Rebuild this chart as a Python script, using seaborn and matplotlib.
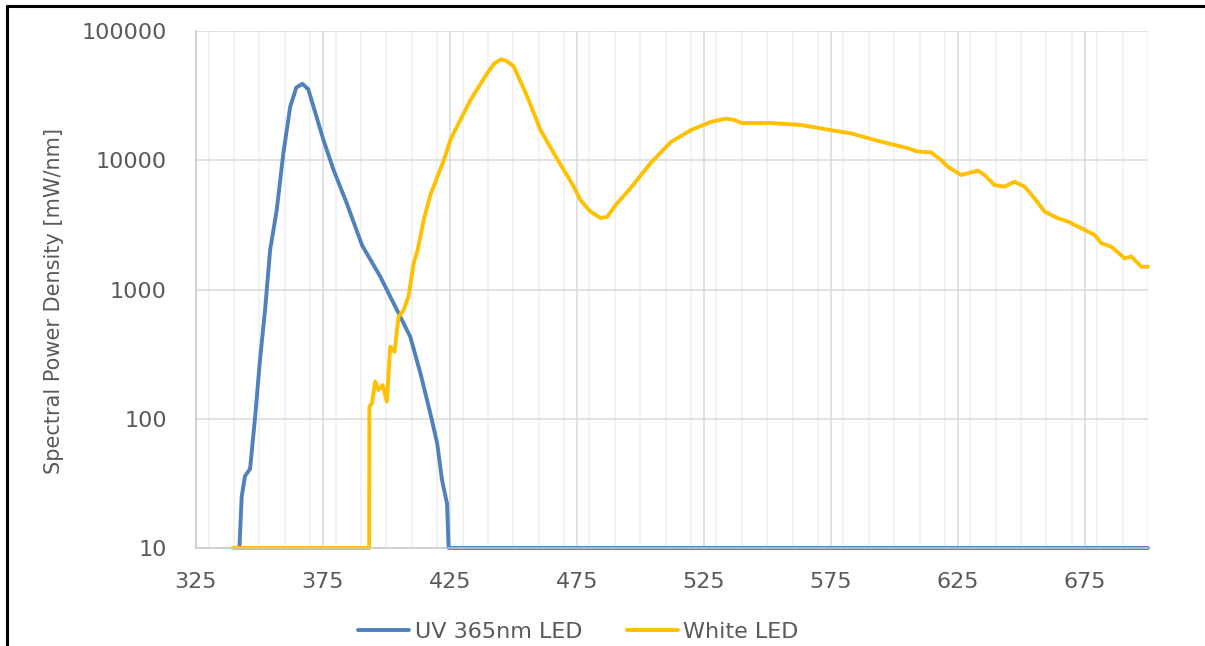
import pandas as pd
import matplotlib.pyplot as plt
import seaborn as sns
import numpy as np
from matplotlib.lines import Line2D
from matplotlib.ticker import FixedLocator, MultipleLocator, FuncFormatter

# spectra (wavelength nm, mW/nm)
uv_nm = [342.1, 343.0, 344.3, 346.3, 348.3, 350.2, 352.2, 354.2, 356.8, 359.4,
         362.1, 364.5, 366.9, 369.2, 371.3, 375.2, 379.2, 384.4, 390.4, 397.6,
         404.8, 409.4, 413.4, 417.3, 420.0, 421.9, 423.9, 424.5, 700.0]
uv_spd = [10, 25, 36, 41, 104, 285, 693, 2020, 4120, 11300,
          25900, 36500, 39000, 35500, 25900, 14350, 8400, 4640, 2200, 1256,
          655, 431, 225, 110, 64.6, 33.6, 22, 10, 10]

white_nm = [339.6, 393.2, 393.3, 394.3, 395.6, 396.9, 398.5, 400.2, 401.5, 403.2,
            404.8, 406.8, 408.7, 410.7, 412.3, 414.7, 417.3, 422.6, 425.2, 427.8,
            433.1, 439.7, 442.5, 445.2, 447.5, 450.2, 455.5, 460.7, 466.0, 473.8,
            476.5, 480.4, 484.4, 487.0, 490.3, 496.2, 504.1, 512.0, 519.9, 527.8,
            533.7, 537.0, 540.0, 551.4, 563.3, 575.0, 583.0, 594.8, 605.4, 609.3,
            614.5, 618.5, 621.1, 626.4, 633.0, 635.6, 639.5, 643.5, 647.4, 651.4,
            655.3, 659.3, 664.5, 668.5, 673.7, 679.0, 681.6, 685.6, 690.8, 693.4,
            697.4, 700.0]
white_spd = [10, 10, 124, 132, 194, 167, 182, 136, 361, 330,
             617, 693, 880, 1585, 2020, 3450, 5380, 10000, 14350, 18200,
             29200, 47100, 56000, 60400, 58500, 53000, 31000, 17100, 11300, 6240,
             4900, 4000, 3570, 3650, 4500, 6100, 9530, 13800, 17100, 19800,
             21000, 20500, 19400, 19400, 18750, 17100, 16150, 13930, 12390, 11660,
             11520, 10050, 8910, 7690, 8310, 7690, 6430, 6240, 6820, 6240,
             5070, 4000, 3560, 3350, 2980, 2640, 2280, 2140, 1740, 1800,
             1500, 1500]

series_names = ['UV 365nm LED', 'White LED']
series_colors = ['#4f81bd', '#ffc000']
y_ticks = [10, 100, 1000, 10000, 100000]

df = pd.concat([
    pd.DataFrame({'nm': uv_nm, 'spd': uv_spd, 'led': series_names[0]}),
    pd.DataFrame({'nm': white_nm, 'spd': white_spd, 'led': series_names[1]}),
], ignore_index=True)

sns.set_theme(style='white')
plt.rcParams['font.family'] = ['DejaVu Sans']
txt = '#595959'

fig = plt.figure(figsize=(12.05, 6.46), dpi=100)
ax = fig.add_axes([196/1205, 1-548/646, (1148-196)/1205, (548-31)/646])

sns.lineplot(data=df, x='nm', y='spd', hue='led', hue_order=series_names,
             palette=series_colors, estimator=None, sort=False, lw=2.8,
             clip_on=False, legend=False, ax=ax)

ax.set_yscale('log')
ax.set_xlim(325, 700)
ax.set_ylim(10, 100000)
ax.yaxis.set_major_locator(FixedLocator(y_ticks))
ax.yaxis.set_minor_locator(FixedLocator([]))
ax.yaxis.set_major_formatter(FuncFormatter(lambda v, p: f'{int(v)}'))
ax.xaxis.set_major_locator(FixedLocator(np.arange(325, 700, 50)))
ax.xaxis.set_minor_locator(MultipleLocator(10))

ax.grid(True, which='major', axis='both', color='#d9d9d9', lw=1.1)
ax.grid(True, which='minor', axis='x', color='#efefef', lw=1.1)
ax.set_axisbelow(True)
for s in ['top', 'right']:
    ax.spines[s].set_visible(False)
for s in ['left', 'bottom']:
    ax.spines[s].set_color('#c8c8c8')
    ax.spines[s].set_linewidth(1.1)

ax.tick_params(axis='both', which='both', length=0, labelsize=16, labelcolor=txt)
ax.tick_params(axis='x', pad=17)
ax.tick_params(axis='y', pad=21)
ax.set_xlabel('')
ax.set_ylabel('Spectral Power Density [mW/nm]', fontsize=15, color=txt)
ax.yaxis.set_label_coords(-0.139, 0.477)

handles = [Line2D([], [], color=c, lw=2.8) for c in series_colors]
fig.legend(handles, series_names, loc='center', bbox_to_anchor=(0.48, 1-632/646),
           ncol=2, frameon=False, fontsize=16, handlelength=2.3,
           handletextpad=0.25, columnspacing=2.0, labelcolor=txt)

# black frame at top and left like the screenshot
fig.add_artist(Line2D([7/1205, 7/1205], [0, 1-6/646], transform=fig.transFigure,
                      color='black', lw=2.2))
fig.add_artist(Line2D([7/1205, 1], [1-6/646, 1-6/646], transform=fig.transFigure,
                      color='black', lw=2.2))

fig.savefig('out.png', dpi=100)
